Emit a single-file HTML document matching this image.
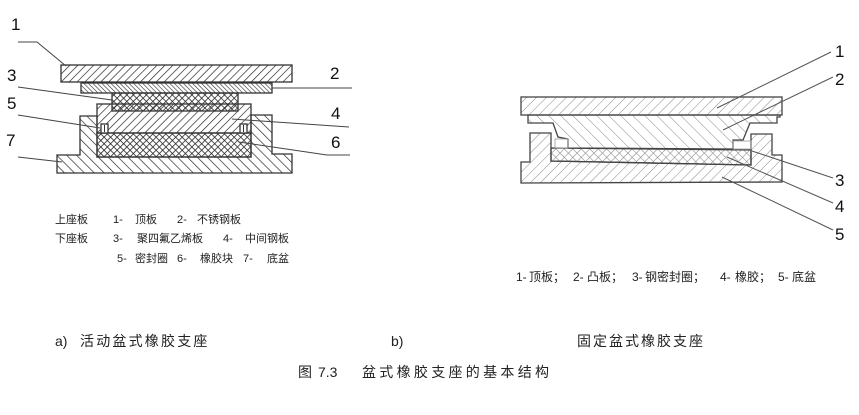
<!DOCTYPE html>
<html><head><meta charset="utf-8">
<style>
html,body{margin:0;padding:0;background:#fff;}
body{width:859px;height:415px;overflow:hidden;position:relative;}
svg{position:absolute;left:0;top:0;}
text{font-family:"Liberation Sans","Noto Sans CJK SC",sans-serif;}
</style></head><body>
<svg width="859" height="415" viewBox="0 0 859 415" xmlns="http://www.w3.org/2000/svg">
<defs>
  <pattern id="fA" width="5.6" height="10" patternUnits="userSpaceOnUse" patternTransform="rotate(45)">
    <line x1="0" y1="0" x2="0" y2="10" stroke="#2a2a2a" stroke-width="1.4"/>
  </pattern>
  <pattern id="bS" width="3.2" height="10" patternUnits="userSpaceOnUse" patternTransform="rotate(-45)">
    <line x1="0" y1="0" x2="0" y2="10" stroke="#2a2a2a" stroke-width="1.2"/>
  </pattern>
  <pattern id="bP" width="7" height="10" patternUnits="userSpaceOnUse" patternTransform="rotate(-45)">
    <line x1="0" y1="0" x2="0" y2="10" stroke="#2a2a2a" stroke-width="1.4"/>
  </pattern>
  <pattern id="xA" width="4.6" height="4.6" patternUnits="userSpaceOnUse" patternTransform="rotate(45)">
    <line x1="0" y1="0" x2="0" y2="4.6" stroke="#2a2a2a" stroke-width="1.6"/>
    <line x1="0" y1="0" x2="4.6" y2="0" stroke="#2a2a2a" stroke-width="1.6"/>
  </pattern>
  <pattern id="rA" width="7" height="10" patternUnits="userSpaceOnUse" patternTransform="rotate(45)">
    <line x1="0" y1="0" x2="0" y2="10" stroke="#8a8a8a" stroke-width="1"/>
  </pattern>
  <pattern id="rB" width="8.5" height="10" patternUnits="userSpaceOnUse" patternTransform="rotate(-45)">
    <line x1="0" y1="0" x2="0" y2="10" stroke="#8a8a8a" stroke-width="1"/>
  </pattern>
  <pattern id="rX" width="6" height="6" patternUnits="userSpaceOnUse" patternTransform="rotate(45)">
    <line x1="0" y1="0" x2="0" y2="6" stroke="#888" stroke-width="1.1"/>
    <line x1="0" y1="0" x2="6" y2="0" stroke="#888" stroke-width="1.1"/>
  </pattern>
</defs>

<!-- ===== Left diagram (a) ===== -->
<g stroke="#333" stroke-width="1.3">
  <polygon points="57,173 57,155 80,155 80,116 97,116 97,157 251,157 251,115 272,115 272,154 292,154 292,173" fill="url(#bP)"/>
  <rect x="97" y="133" width="154" height="24" fill="url(#xA)"/>
  <rect x="97" y="104" width="154" height="29" fill="url(#fA)"/>
  <rect x="101" y="124" width="7" height="9" fill="#fff"/>
  <line x1="104.5" y1="125" x2="104.5" y2="132" stroke-width="1"/>
  <rect x="240" y="124" width="7" height="9" fill="#fff"/>
  <line x1="243.5" y1="125" x2="243.5" y2="132" stroke-width="1"/>
  <rect x="112" y="93" width="126" height="18" fill="url(#xA)"/>
  <rect x="81" y="83" width="191" height="10" fill="url(#bS)"/>
  <rect x="61" y="65" width="231" height="17" fill="url(#fA)"/>
</g>
<g stroke="#444" stroke-width="1" fill="none">
  <polyline points="18,42 37,42 66,66"/>
  <line x1="272" y1="88" x2="352" y2="88"/>
  <line x1="18" y1="87" x2="112" y2="100"/>
  <line x1="18" y1="115" x2="100" y2="128"/>
  <line x1="232" y1="119" x2="349" y2="127"/>
  <polyline points="239,142 327,155 350,155"/>
  <line x1="18" y1="157" x2="62" y2="162"/>
</g>
<g font-size="17" fill="#111">
  <text x="11" y="30">1</text>
  <text x="330" y="79">2</text>
  <text x="7" y="81">3</text>
  <text x="7" y="109">5</text>
  <text x="331" y="119">4</text>
  <text x="6" y="146">7</text>
  <text x="331" y="148">6</text>
</g>
<g font-size="11" fill="#222">
  <text x="55" y="223">上座板</text>
  <text x="113" y="223">1-</text>
  <text x="135" y="223">顶板</text>
  <text x="177" y="223">2-</text>
  <text x="197" y="223">不锈钢板</text>
  <text x="55" y="242">下座板</text>
  <text x="113" y="242">3-</text>
  <text x="137" y="242">聚四氟乙烯板</text>
  <text x="223" y="242">4-</text>
  <text x="245" y="242">中间钢板</text>
  <text x="117" y="262">5-</text>
  <text x="135" y="262">密封圈</text>
  <text x="177" y="262">6-</text>
  <text x="200" y="262">橡胶块</text>
  <text x="243" y="262">7-</text>
  <text x="267" y="262">底盆</text>
</g>

<!-- ===== Right diagram (b) ===== -->
<g stroke="#444" stroke-width="1.3">
  <polygon points="521,183 521,162 530,162 530,133 551,133 551,161 751,165 751,134 772,134 772,155 782,155 782,182" fill="url(#rA)"/>
  <polygon points="551,148 751,150 751,165 551,161" fill="url(#rX)"/>
  <polygon points="528,115 780,115 780,117 777,117 777,123 750,123 743,140 733,140 733,149 568,148 568,139 558,137 553,123 528,123" fill="url(#rB)"/>
  <rect x="555" y="139" width="13" height="9" fill="none" stroke="#999" stroke-width="0.8"/>
  <rect x="733" y="141" width="18" height="8" fill="none" stroke="#999" stroke-width="0.8"/>
  <rect x="521" y="97" width="261" height="18" fill="url(#rA)"/>
</g>
<g stroke="#555" stroke-width="1" fill="none">
  <line x1="831" y1="52" x2="717" y2="108"/>
  <line x1="833" y1="77" x2="723" y2="130"/>
  <line x1="833" y1="178" x2="752" y2="151"/>
  <line x1="833" y1="203" x2="727" y2="157"/>
  <line x1="833" y1="230" x2="722" y2="177"/>
</g>
<g font-size="17" fill="#111">
  <text x="835" y="57">1</text>
  <text x="835" y="85">2</text>
  <text x="835" y="186">3</text>
  <text x="835" y="212">4</text>
  <text x="835" y="240">5</text>
</g>
<g font-size="12" fill="#222">
  <text x="516" y="281">1-</text>
  <text x="529" y="281">顶板；</text>
  <text x="573" y="281">2-</text>
  <text x="587" y="281">凸板；</text>
  <text x="632" y="281">3-</text>
  <text x="645" y="281">钢密封圈；</text>
  <text x="720" y="281">4-</text>
  <text x="735" y="281">橡胶；</text>
  <text x="778" y="281">5-</text>
  <text x="792" y="281">底盆</text>
</g>

<g font-size="14" fill="#222">
  <text x="55" y="346">a)</text>
  <text x="80" y="346" letter-spacing="2.2">活动盆式橡胶支座</text>
  <text x="391" y="346">b)</text>
  <text x="577" y="346" letter-spacing="2">固定盆式橡胶支座</text>
  <text x="298" y="377">图</text>
  <text x="318" y="377">7.3</text>
  <text x="362" y="377" letter-spacing="3.3">盆式橡胶支座的基本结构</text>
</g>
</svg>
</body></html>
